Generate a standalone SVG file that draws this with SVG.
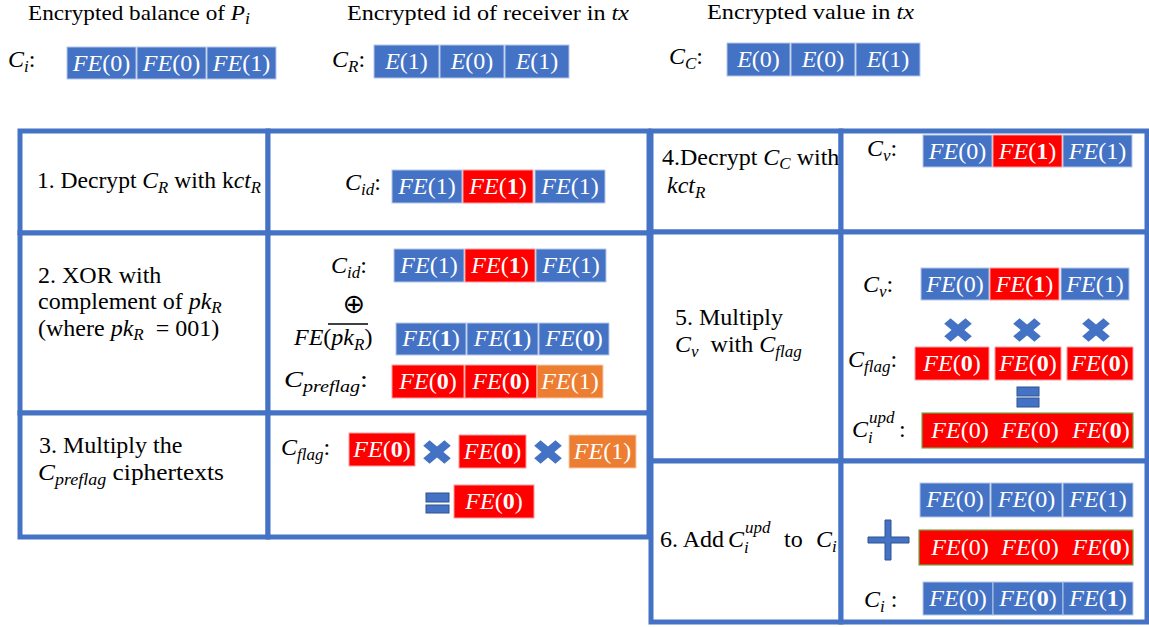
<svg xmlns="http://www.w3.org/2000/svg" xmlns:xlink="http://www.w3.org/1999/xlink" width="1149" height="627" viewBox="0 0 1149 627" font-family="Liberation Serif, DejaVu Serif, serif">
<style>
text{font-family:'Liberation Serif','DejaVu Serif',serif}
.h{font-size:22px;fill:#000}
.t{font-size:24px;fill:#000}
.m{font-size:24px;font-style:italic;fill:#000}
.bx{font-size:24px;fill:#fff;text-anchor:middle}
.i{font-style:italic}
.s{font-size:17px;font-style:italic}
.b{font-weight:bold}
.cell{fill:#fff;stroke:#4472C4;stroke-width:5}
.bl{fill:#4472C4;stroke:#B4C7E7;stroke-width:1}
.rd{fill:#FF0000;stroke:#FF9B9B;stroke-width:1}
.or{fill:#ED7D31;stroke:#F8CBAD;stroke-width:1}
.rdw{fill:#FF0000;stroke:#70AD47;stroke-width:1.2}
.op{fill:#4472C4}
.ops{fill:#4472C4;stroke:#2F528F;stroke-width:1}
</style>
<defs>
<g id="mul" class="op"><g transform="scale(1,0.85) rotate(45)"><rect x="-15" y="-4.5" width="30" height="9"/><rect x="-4.5" y="-15" width="9" height="30"/></g></g>
</defs>

<!-- headers -->
<g id="hdr-balance"><text class="h" x="28" y="20" textLength="222" lengthAdjust="spacingAndGlyphs">Encrypted balance of <tspan class="i">P</tspan><tspan class="s" dy="4">i</tspan></text></g>
<g id="hdr-id"><text class="h" x="347" y="20" textLength="282" lengthAdjust="spacingAndGlyphs">Encrypted id of receiver in <tspan class="i">tx</tspan></text></g>
<g id="hdr-value"><text class="h" x="707" y="19" textLength="207" lengthAdjust="spacingAndGlyphs">Encrypted value in <tspan class="i">tx</tspan></text></g>

<!-- top ciphertexts -->
<g id="ct-Ci">
<text class="m" x="8" y="67">C<tspan class="s" dy="5">i</tspan><tspan font-style="normal" dy="-5">:</tspan></text>
<rect class="bl" x="67" y="47" width="69" height="32"/><text class="bx" x="101.5" y="71"><tspan class="i">FE</tspan>(0)</text>
<rect class="bl" x="137" y="47" width="69" height="32"/><text class="bx" x="171.5" y="71"><tspan class="i">FE</tspan>(0)</text>
<rect class="bl" x="207" y="47" width="69" height="32"/><text class="bx" x="241.5" y="71"><tspan class="i">FE</tspan>(1)</text>
</g>
<g id="ct-CR">
<text class="m" x="332" y="67">C<tspan class="s" dy="5">R</tspan><tspan font-style="normal" dy="-5">:</tspan></text>
<rect class="bl" x="374" y="45" width="65" height="33"/><text class="bx" x="406.5" y="69"><tspan class="i">E</tspan>(1)</text>
<rect class="bl" x="440" y="45" width="64" height="33"/><text class="bx" x="472" y="69"><tspan class="i">E</tspan>(0)</text>
<rect class="bl" x="505" y="45" width="64" height="33"/><text class="bx" x="537" y="69"><tspan class="i">E</tspan>(1)</text>
</g>
<g id="ct-CC">
<text class="m" x="669" y="64">C<tspan class="s" dy="5">C</tspan><tspan font-style="normal" dy="-5">:</tspan></text>
<rect class="bl" x="727" y="43" width="63" height="33"/><text class="bx" x="758.5" y="67"><tspan class="i">E</tspan>(0)</text>
<rect class="bl" x="791" y="43" width="64" height="33"/><text class="bx" x="823" y="67"><tspan class="i">E</tspan>(0)</text>
<rect class="bl" x="856" y="43" width="64" height="33"/><text class="bx" x="888" y="67"><tspan class="i">E</tspan>(1)</text>
</g>

<!-- left table -->
<g id="step1-label">
<rect class="cell" x="20" y="131" width="248" height="102"/>
<text class="t" x="37" y="188" textLength="224" lengthAdjust="spacingAndGlyphs">1. Decrypt <tspan class="i">C</tspan><tspan class="s" dy="5">R</tspan><tspan dy="-5"> with k</tspan><tspan class="i">ct</tspan><tspan class="s" dy="5">R</tspan></text>
</g>
<g id="step1-content">
<rect class="cell" x="268" y="131" width="381" height="102"/>
<text class="m" x="345" y="190">C<tspan class="s" dy="5">id</tspan><tspan font-style="normal" dy="-5">:</tspan></text>
<rect class="bl" x="392" y="170" width="70" height="33"/><text class="bx" x="427" y="194"><tspan class="i">FE</tspan>(1)</text>
<rect class="rd" x="463" y="170" width="70" height="33"/><text class="bx" x="498" y="194"><tspan class="i">FE</tspan>(<tspan class="b">1</tspan>)</text>
<rect class="bl" x="535" y="170" width="70" height="33"/><text class="bx" x="570" y="194"><tspan class="i">FE</tspan>(1)</text>
</g>

<g id="step2-label">
<rect class="cell" x="20" y="233" width="248" height="180"/>
<text class="t" x="38" y="283">2. XOR with</text>
<text class="t" x="38" y="309">complement of <tspan class="i">pk</tspan><tspan class="s" dy="4">R</tspan></text>
<text class="t" x="38" y="336">(where <tspan class="i">pk</tspan><tspan class="s" dy="4">R</tspan><tspan dy="-4">&#160; = 001)</tspan></text>
</g>
<g id="step2-content">
<rect class="cell" x="268" y="233" width="381" height="180"/>
<text class="m" x="331" y="273">C<tspan class="s" dy="5">id</tspan><tspan font-style="normal" dy="-5">:</tspan></text>
<rect class="bl" x="394" y="249" width="70" height="33"/><text class="bx" x="429" y="273"><tspan class="i">FE</tspan>(1)</text>
<rect class="rd" x="465" y="249" width="70" height="33"/><text class="bx" x="500" y="273"><tspan class="i">FE</tspan>(<tspan class="b">1</tspan>)</text>
<rect class="bl" x="536" y="249" width="70" height="33"/><text class="bx" x="571" y="273"><tspan class="i">FE</tspan>(1)</text>
<text x="354" y="313" style="font-family:'DejaVu Sans',sans-serif" font-size="27" text-anchor="middle" fill="#000">⊕</text>
<text class="m" x="294" y="345">FE<tspan font-style="normal">(</tspan>pk<tspan class="s" dy="5">R</tspan><tspan font-style="normal" dy="-5">)</tspan></text>
<line x1="328" y1="324" x2="368" y2="324" stroke="#000" stroke-width="1.3"/>
<rect class="bl" x="396" y="323" width="70" height="32"/><text class="bx" x="431" y="346"><tspan class="i">FE</tspan>(<tspan class="b">1</tspan>)</text>
<rect class="bl" x="467" y="323" width="71" height="32"/><text class="bx" x="502.5" y="346"><tspan class="i">FE</tspan>(<tspan class="b">1</tspan>)</text>
<rect class="bl" x="539" y="323" width="70" height="32"/><text class="bx" x="574" y="346"><tspan class="i">FE</tspan>(<tspan class="b">0</tspan>)</text>
<text class="m" x="284" y="387" textLength="84" lengthAdjust="spacingAndGlyphs">C<tspan class="s" dy="5">preflag</tspan><tspan font-style="normal" dy="-5">:</tspan></text>
<rect class="rd" x="392" y="365" width="72" height="33"/><text class="bx" x="428" y="389"><tspan class="i">FE</tspan>(<tspan class="b">0</tspan>)</text>
<rect class="rd" x="465" y="365" width="72" height="33"/><text class="bx" x="501" y="389"><tspan class="i">FE</tspan>(<tspan class="b">0</tspan>)</text>
<rect class="or" x="537" y="365" width="66" height="33"/><text class="bx" x="570" y="389"><tspan class="i">FE</tspan>(1)</text>
</g>

<g id="step3-label">
<rect class="cell" x="20" y="413" width="248" height="124"/>
<text class="t" x="39" y="453">3. Multiply the</text>
<text class="t" x="38" y="480" textLength="186" lengthAdjust="spacingAndGlyphs"><tspan class="i">C</tspan><tspan class="s" dy="5">preflag</tspan><tspan dy="-5"> ciphertexts</tspan></text>
</g>
<g id="step3-content">
<rect class="cell" x="268" y="413" width="381" height="124"/>
<text class="m" x="281" y="455">C<tspan class="s" dy="5">flag</tspan><tspan font-style="normal" dy="-5">:</tspan></text>
<rect class="rd" x="349" y="433" width="66" height="33"/><text class="bx" x="382" y="457"><tspan class="i">FE</tspan>(<tspan class="b">0</tspan>)</text>
<use xlink:href="#mul" x="437" y="452"/>
<rect class="rd" x="459" y="435" width="67" height="33"/><text class="bx" x="492.5" y="459"><tspan class="i">FE</tspan>(<tspan class="b">0</tspan>)</text>
<use xlink:href="#mul" x="548" y="452"/>
<rect class="or" x="569" y="435" width="67" height="33"/><text class="bx" x="602.5" y="459"><tspan class="i">FE</tspan>(1)</text>
<rect class="ops" x="426" y="493" width="23" height="9"/>
<rect class="ops" x="426" y="505" width="23" height="8"/>
<rect class="rd" x="454" y="485" width="80" height="33"/><text class="bx" x="494" y="509"><tspan class="i">FE</tspan>(<tspan class="b">0</tspan>)</text>
</g>

<!-- right table -->
<g id="step4-label">
<rect class="cell" x="651" y="131" width="190" height="101"/>
<text class="t" x="662" y="165" font-size="23">4.Decrypt <tspan class="i">C</tspan><tspan class="s" dy="4">C</tspan><tspan dy="-4"> with</tspan></text>
<text class="m" x="667" y="193">kct<tspan class="s" dy="5">R</tspan></text>
</g>
<g id="step4-content">
<rect class="cell" x="841" y="131" width="306" height="101"/>
<text class="m" x="867" y="156">C<tspan class="s" dy="5">v</tspan><tspan font-style="normal" dy="-5">:</tspan></text>
<rect class="bl" x="923" y="135" width="69" height="32"/><text class="bx" x="957.5" y="159"><tspan class="i">FE</tspan>(0)</text>
<rect class="rd" x="993" y="135" width="69" height="32"/><text class="bx" x="1027.5" y="159"><tspan class="i">FE</tspan>(<tspan class="b">1</tspan>)</text>
<rect class="bl" x="1063" y="135" width="69" height="32"/><text class="bx" x="1097.5" y="159"><tspan class="i">FE</tspan>(1)</text>
</g>

<g id="step5-label">
<rect class="cell" x="651" y="232" width="190" height="229"/>
<text class="t" x="675" y="325">5. Multiply</text>
<text class="t" x="675" y="352"><tspan class="i">C</tspan><tspan class="s" dy="5">v</tspan><tspan dy="-5">&#160; with </tspan><tspan class="i">C</tspan><tspan class="s" dy="5">flag</tspan></text>
</g>
<g id="step5-content">
<rect class="cell" x="841" y="232" width="306" height="229"/>
<text class="m" x="863" y="292">C<tspan class="s" dy="5">v</tspan><tspan font-style="normal" dy="-5">:</tspan></text>
<rect class="bl" x="921" y="268" width="68" height="32"/><text class="bx" x="955" y="292"><tspan class="i">FE</tspan>(0)</text>
<rect class="rd" x="990" y="268" width="69" height="32"/><text class="bx" x="1024.5" y="292"><tspan class="i">FE</tspan>(<tspan class="b">1</tspan>)</text>
<rect class="bl" x="1061" y="268" width="68" height="32"/><text class="bx" x="1095" y="292"><tspan class="i">FE</tspan>(1)</text>
<use xlink:href="#mul" x="958" y="330"/>
<use xlink:href="#mul" x="1027" y="330"/>
<use xlink:href="#mul" x="1096" y="330"/>
<text class="m" x="848" y="367">C<tspan class="s" dy="5">flag</tspan><tspan font-style="normal" dy="-5">:</tspan></text>
<rect class="rd" x="915" y="347" width="74" height="33"/><text class="bx" x="952" y="371"><tspan class="i">FE</tspan>(<tspan class="b">0</tspan>)</text>
<rect class="rd" x="995" y="347" width="66" height="33"/><text class="bx" x="1028" y="371"><tspan class="i">FE</tspan>(<tspan class="b">0</tspan>)</text>
<rect class="rd" x="1067" y="347" width="66" height="33"/><text class="bx" x="1100" y="371"><tspan class="i">FE</tspan>(<tspan class="b">0</tspan>)</text>
<rect class="ops" x="1017" y="387" width="22" height="9"/>
<rect class="ops" x="1017" y="398" width="22" height="9"/>
<text class="m" x="852" y="437">C<tspan class="s" x="868" y="443" font-size="17">i</tspan><tspan class="s" x="869" y="423" font-size="17">upd</tspan><tspan font-style="normal" x="899" y="437">:</tspan></text>
<rect class="rdw" x="922" y="413" width="211" height="35"/>
<text class="bx" x="960" y="438"><tspan class="i">FE</tspan>(0)</text>
<text class="bx" x="1030" y="438"><tspan class="i">FE</tspan>(0)</text>
<text class="bx" x="1101" y="438"><tspan class="i">FE</tspan>(<tspan class="b">0</tspan>)</text>
</g>

<g id="step6-label">
<rect class="cell" x="651" y="461" width="190" height="161"/>
<text class="t" x="660" y="547">6. Add<tspan class="i" x="728">C</tspan><tspan class="s" x="744" y="553" font-size="17">i</tspan><tspan class="s" x="745" y="533" font-size="17">upd</tspan><tspan x="784" y="547">to</tspan><tspan class="i" x="816">C</tspan><tspan class="s" dy="5">i</tspan></text>
</g>
<g id="step6-content">
<rect class="cell" x="841" y="461" width="306" height="161"/>
<rect class="bl" x="920" y="483" width="70" height="34"/><text class="bx" x="955" y="507"><tspan class="i">FE</tspan>(0)</text>
<rect class="bl" x="991" y="483" width="71" height="34"/><text class="bx" x="1026.5" y="507"><tspan class="i">FE</tspan>(0)</text>
<rect class="bl" x="1063" y="483" width="70" height="34"/><text class="bx" x="1098" y="507"><tspan class="i">FE</tspan>(1)</text>
<polygon class="ops" points="885,520 891,520 891,537 909,537 909,543 891,543 891,560 885,560 885,543 868,543 868,537 885,537"/>
<rect class="rdw" x="919" y="530" width="214" height="35"/>
<text class="bx" x="960" y="555"><tspan class="i">FE</tspan>(0)</text>
<text class="bx" x="1030" y="555"><tspan class="i">FE</tspan>(0)</text>
<text class="bx" x="1101" y="555"><tspan class="i">FE</tspan>(<tspan class="b">0</tspan>)</text>
<text class="m" x="864" y="607">C<tspan class="s" dy="5">i</tspan><tspan font-style="normal" dy="-5"> :</tspan></text>
<rect class="bl" x="923" y="582" width="70" height="33"/><text class="bx" x="958" y="606"><tspan class="i">FE</tspan>(0)</text>
<rect class="bl" x="993" y="582" width="70" height="33"/><text class="bx" x="1028" y="606"><tspan class="i">FE</tspan>(<tspan class="b">0</tspan>)</text>
<rect class="bl" x="1063" y="582" width="70" height="33"/><text class="bx" x="1098" y="606"><tspan class="i">FE</tspan>(<tspan class="b">1</tspan>)</text>
</g>

<g id="connectors"/>
</svg>
